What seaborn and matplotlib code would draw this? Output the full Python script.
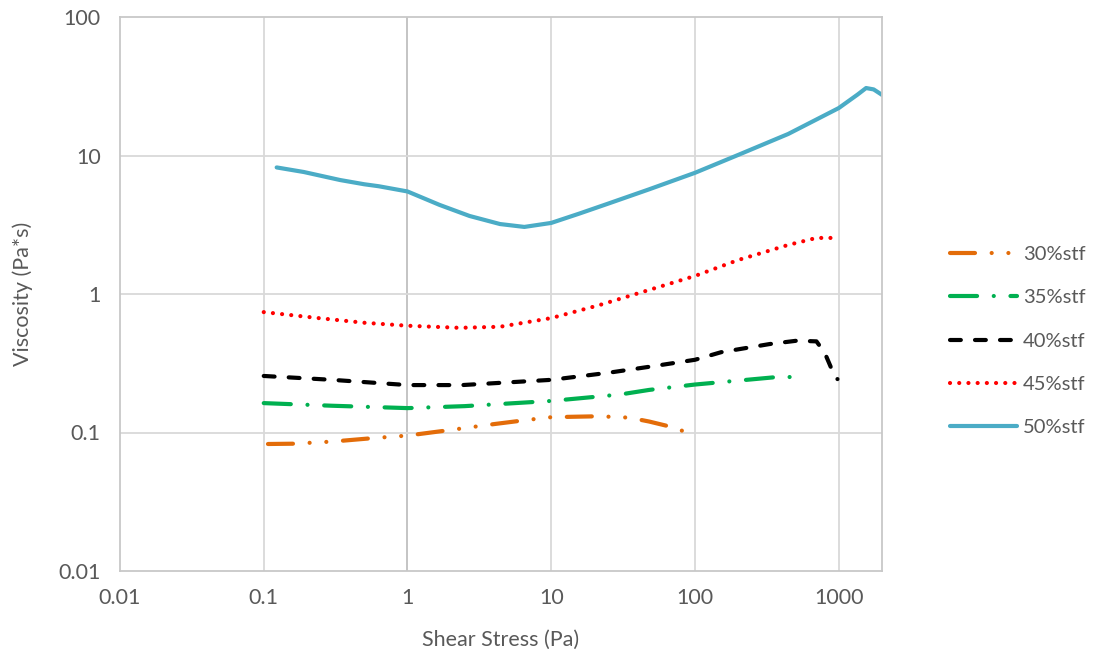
import matplotlib
matplotlib.use("Agg")
import matplotlib.pyplot as plt
import seaborn as sns
import pandas as pd
import numpy as np

labels = ["30%stf", "35%stf", "40%stf", "45%stf", "50%stf"]

x30 = [0.107, 0.16, 0.3, 0.57, 1.0, 1.95, 4.0, 6.7, 10, 21.5, 35, 48, 73, 100]
y30 = [0.0826, 0.083, 0.086, 0.091, 0.095, 0.104, 0.115, 0.123, 0.129, 0.131, 0.128, 0.12, 0.108, 0.094]

x35 = [0.1, 0.3, 1.0, 2.5, 10, 30, 48, 100, 200, 350, 500]
y35 = [0.163, 0.156, 0.150, 0.155, 0.169, 0.188, 0.203, 0.222, 0.237, 0.250, 0.252]

x40 = [0.1, 0.3, 1.0, 2.4, 10, 25, 50, 100, 152, 330, 510, 700, 800, 930, 980]
y40 = [0.256, 0.24, 0.22, 0.22, 0.24, 0.27, 0.30, 0.335, 0.38, 0.435, 0.46, 0.455, 0.375, 0.26, 0.243]

x45 = [0.1, 0.24, 0.5, 1.0, 2.3, 4.4, 10, 21.5, 48, 100, 200, 445, 700, 1000]
y45 = [0.74, 0.67, 0.62, 0.59, 0.57, 0.58, 0.67, 0.83, 1.07, 1.35, 1.76, 2.26, 2.54, 2.54]

x50 = [0.123, 0.19, 0.34, 0.50, 0.63, 1.0, 1.67, 2.7, 4.4, 6.5, 10, 15.6, 25, 48, 100, 200, 445, 1000, 1350, 1550, 1750, 2000]
y50 = [8.2, 7.6, 6.65, 6.2, 6.0, 5.5, 4.4, 3.66, 3.2, 3.05, 3.26, 3.8, 4.5, 5.7, 7.5, 10.1, 14.3, 22, 27.5, 30.7, 30.0, 27.4]

xs = [x30, x35, x40, x45, x50]
ys = [y30, y35, y40, y45, y50]
colors = ["#E36C09", "#00B050", "#000000", "#FF0000", "#4BACC6"]
dash_patterns = [
    (6.0, 4.0, 0.01, 4.0, 0.01, 4.0),
    (6.5, 4.0, 0.01, 4.0),
    (2.6, 3.4),
    (0.01, 2.2),
    None,
]

sns.set_theme(style="white")
plt.rcParams['font.family'] = ['Lato', 'DejaVu Sans']

fig = plt.figure(figsize=(10.97, 6.55), dpi=100)
ax = fig.add_axes([120/1097, 1-571/655, (882-120)/1097, (571-17)/655])

for lab, x, y, c, d in zip(labels, xs, ys, colors, dash_patterns):
    df = pd.DataFrame({"x": x, "y": y})
    sns.lineplot(data=df, x="x", y="y", ax=ax, color=c, linewidth=3.0,
                 sort=False, estimator=None, label=lab)
    ln = ax.lines[-1]
    ln.set_solid_capstyle("round")
    ln.set_dash_capstyle("round")
    ln.set_solid_joinstyle("round")
    if d is not None:
        ln.set_dashes(d)

ax.set_xscale("log")
ax.set_yscale("log")
ax.set_xlim(0.01, 2000)
ax.set_ylim(0.01, 100)

xt = [0.01, 0.1, 1, 10, 100, 1000]
yt = [0.01, 0.1, 1, 10, 100]
ax.set_xticks(xt)
ax.set_xticklabels(["0.01", "0.1", "1", "10", "100", "1000"])
ax.set_yticks(yt)
ax.set_yticklabels(["0.01", "0.1", "1", "10", "100"])
ax.minorticks_off()
ax.tick_params(axis="both", length=0, labelsize=15.5, labelcolor="#595959")
ax.tick_params(axis="x", pad=12)
ax.tick_params(axis="y", pad=14)

for v in xt[1:]:
    ax.axvline(v, color="#bfbfbf" if v == 1 else "#d9d9d9", lw=1.3, zorder=0)
for v in yt[1:-1]:
    ax.axhline(v, color="#d9d9d9", lw=1.3, zorder=0)
ax.grid(False)
for s in ax.spines.values():
    s.set_color("#c8c8c8")
    s.set_linewidth(1.3)

ax.set_xlabel("Shear Stress (Pa)", fontsize=15.5, color="#595959", labelpad=16)
ax.set_ylabel("Viscosity (Pa*s)", fontsize=15.5, color="#595959", labelpad=18)

leg = ax.legend(loc="center left", bbox_to_anchor=(1.079, 0.415), frameon=False,
                fontsize=14.5, handlelength=3.3, labelspacing=1.3, handletextpad=0.3,
                borderaxespad=0.0, labelcolor="#595959")
for h in leg.get_lines():
    h.set_linewidth(3.0)

fig.savefig("out.png", dpi=100)
